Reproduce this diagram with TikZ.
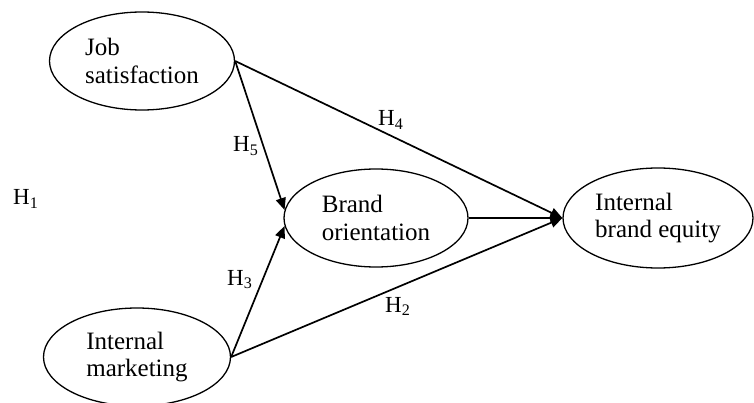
\documentclass[tikz,border=0pt]{standalone}
\usepackage{fontspec}
\setmainfont{Liberation Serif}
\usetikzlibrary{shapes.geometric,arrows.meta}
\begin{document}
\begin{tikzpicture}[x=1pt,y=-1pt,
  construct/.style={draw, line width=1.3pt, ellipse, inner sep=0pt, align=left,
    font=\fontsize{25}{27.5}\selectfont},
  hyp/.style={inner sep=0pt, anchor=base west, font=\fontsize{23}{26}\selectfont},
  path/.style={line width=1.7pt, -{Triangle[length=12pt,width=10pt]}}]
\useasboundingbox (0,0) rectangle (754,403);
\node[construct, minimum width=185pt, minimum height=98pt] (js) at (142,61) {Job\\satisfaction};
\node[construct, minimum width=184pt, minimum height=98pt] (bo) at (376,218) {Brand\\orientation};
\node[construct, minimum width=190pt, minimum height=100pt] (ibe) at (658,218) {Internal\\brand equity};
\node[construct, minimum width=187pt, minimum height=98pt] (im) at (137,357) {Internal\\marketing};
\draw[path] (js.east) -- (ibe.west);
\draw[path] (js.east) -- (bo.175);
\draw[path] (im.east) -- (bo.185);
\draw[path] (im.east) -- (ibe.west);
\draw[path] (bo.east) -- (ibe.west);
\node[hyp] (h4) at (378,126) {H\textsubscript{4}};
\node[hyp] (h5) at (233,152) {H\textsubscript{5}};
\node[hyp] (h1) at (13,205) {H\textsubscript{1}};
\node[hyp] (h3) at (227,285) {H\textsubscript{3}};
\node[hyp] (h2) at (385,312) {H\textsubscript{2}};
\end{tikzpicture}
\end{document}
